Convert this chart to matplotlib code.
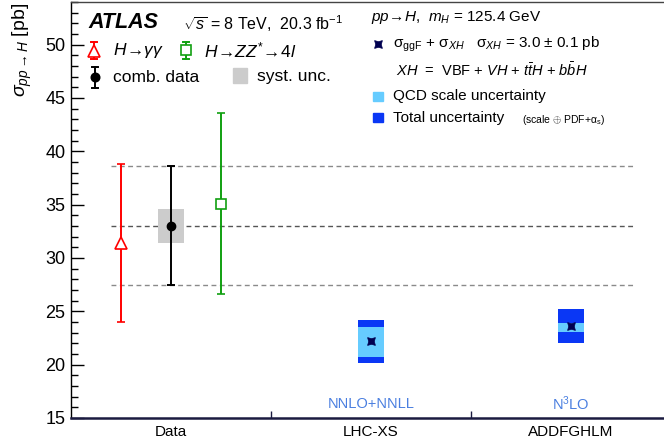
import matplotlib
matplotlib.use("Agg")
import matplotlib.pyplot as plt
from matplotlib.ticker import MultipleLocator, FixedLocator
from matplotlib.patches import Rectangle

plt.rcParams['font.family'] = ['Liberation Sans', 'DejaVu Sans']
plt.rcParams['mathtext.fontset'] = 'custom'
plt.rcParams['mathtext.rm'] = 'Liberation Sans'
plt.rcParams['mathtext.it'] = 'Liberation Sans:italic'
plt.rcParams['mathtext.bf'] = 'Liberation Sans:bold'

# ---------------- data ----------------
categories = ['Data', 'LHC-XS', 'ADDFGHLM']
cat_pos = [0.5, 1.5, 2.5]

# measurements (x position inside "Data" slot)
gg_x, gg_val, gg_lo, gg_hi = 0.25, 31.4, 7.4, 7.4
zz_x, zz_val, zz_lo, zz_hi = 0.75, 35.1, 8.5, 8.5
cb_x, cb_val, cb_lo, cb_hi = 0.5, 33.0, 5.55, 5.6
cb_syst = 1.6

# theory predictions
th_x = [1.5, 2.5]
th_labels = ['NNLO+NNLL', 'N$^{3}$LO']
th_central = [22.2, 23.6]
th_qcd_lo = [20.75, 23.1]
th_qcd_hi = [23.55, 23.9]
th_tot_lo = [20.2, 22.05]
th_tot_hi = [24.2, 25.2]

W, H = 664, 446
fig = plt.figure(figsize=(W / 100, H / 100), dpi=100)
ax = fig.add_axes([71 / W, 28 / H, 600 / W, 416 / H])
ax.set_xlim(0, 3)
ax.set_ylim(15, 54.0)

# dashed reference lines from combined data
for yv, col in [(cb_val + cb_hi, '#8a8a8a'), (cb_val, '#555555'), (cb_val - cb_lo, '#8a8a8a')]:
    ax.plot([0.2, 2.81], [yv, yv], color=col, lw=1.0, ls=(0, (3.5, 2.5)), zorder=1)

# systematic box
ax.bar([cb_x], [2 * cb_syst], bottom=[cb_val - cb_syst], width=0.133,
       color='#cccccc', zorder=2)

# measurements
ax.errorbar([gg_x], [gg_val], yerr=[[gg_lo], [gg_hi]], fmt='^', color='#ff0000',
            mfc='white', mec='#ff0000', ms=8, mew=1.2, lw=1.4, capsize=3, capthick=1.4, zorder=4)
ax.errorbar([zz_x], [zz_val], yerr=[[zz_lo], [zz_hi]], fmt='s', color='#10a010',
            mfc='white', mec='#10a010', ms=6.5, mew=1.2, lw=1.4, capsize=3, capthick=1.4, zorder=4)
ax.errorbar([cb_x], [cb_val], yerr=[[cb_lo], [cb_hi]], fmt='o', color='black',
            ms=6, lw=1.4, capsize=3, capthick=1.4, zorder=5)

# theory boxes
for i in range(len(th_x)):
    ax.bar([th_x[i]], [th_tot_hi[i] - th_tot_lo[i]], bottom=[th_tot_lo[i]], width=0.133,
           color='#0a37f5', zorder=2)
    ax.bar([th_x[i]], [th_qcd_hi[i] - th_qcd_lo[i]], bottom=[th_qcd_lo[i]], width=0.133,
           color='#66ccff', zorder=3)
    ax.text(th_x[i], 16.3, th_labels[i], color='#4a7fe0', fontsize=10.5,
            ha='center', va='center')
ax.plot(th_x, th_central, ls='none', marker=(4, 1, 45), ms=8, color='#000050',
        mec='#000050', mew=0.5, zorder=5)

# axes styling
ax.spines['right'].set_visible(False)
ax.spines['left'].set_linewidth(1.0)
ax.spines['top'].set_linewidth(1.0)
ax.spines['top'].set_color('#444444')
ax.spines['bottom'].set_color('#1a1a40')
ax.spines['bottom'].set_linewidth(1.8)
ax.yaxis.set_major_locator(MultipleLocator(5))
ax.yaxis.set_minor_locator(MultipleLocator(1))
ax.tick_params(axis='y', which='major', direction='in', length=9, width=1, labelsize=13, pad=4)
ax.tick_params(axis='y', which='minor', direction='in', length=5, width=1)
ax.set_xticks(cat_pos)
ax.set_xticklabels(categories, fontsize=11)
ax.xaxis.set_minor_locator(FixedLocator([1, 2]))
ax.tick_params(axis='x', which='major', length=0, pad=5)
ax.tick_params(axis='x', which='minor', direction='in', length=5, width=1, color='#1a1a40')

# y label
fig.text(22 / W, 1 - 3 / H, r'$\sigma_{pp\rightarrow H}$ [pb]', rotation=90,
         ha='center', va='top', fontsize=14)

# overlay for legends (pixel coordinates)
ov = fig.add_axes([0, 0, 1, 1], facecolor='none')
ov.set_xlim(0, W)
ov.set_ylim(H, 0)
ov.axis('off')


def icon(x, y0, y1, ym, color, marker, mfc, ms):
    ov.plot([x, x], [y0, y1], color=color, lw=1.4)
    ov.plot([x - 3, x + 3], [y0, y0], color=color, lw=1.4)
    ov.plot([x - 3, x + 3], [y1, y1], color=color, lw=1.4)
    ov.plot([x], [ym], marker=marker, color=color, mfc=mfc, mec=color, ms=ms, mew=1.2)


ov.text(88, 23, 'ATLAS', fontsize=15.5, fontweight='bold', fontstyle='italic',
        ha='left', va='center')
ov.text(183, 24, r'$\sqrt{s}$ = 8 TeV,  20.3 fb$^{-1}$', fontsize=11.5, ha='left', va='center')
icon(94, 42, 59, 51, '#ff0000', '^', 'white', 8)
ov.text(113, 50, r'$H\!\rightarrow\!\gamma\gamma$', fontsize=12.5, ha='left', va='center')
icon(186, 42, 59, 50, '#10a010', 's', 'white', 6.5)
ov.text(204, 50, r'$H\!\rightarrow\!ZZ^{*}\!\rightarrow\!4l$', fontsize=12.5, ha='left', va='center')
icon(95, 67, 88, 77, 'black', 'o', 'black', 6)
ov.text(113, 77, 'comb. data', fontsize=12.5, ha='left', va='center')
ov.add_patch(Rectangle((233, 68), 14, 15, color='#cccccc'))
ov.text(257, 76, 'syst. unc.', fontsize=12.5, ha='left', va='center')

ov.text(371, 18, r'$pp\!\rightarrow\!H$,  $m_{H}$ = 125.4 GeV', fontsize=11, ha='left', va='center')
ov.plot([378], [44], marker=(4, 1, 45), ms=8, color='#000050', mew=0.5, ls='none')
ov.text(393, 44, r'σ$_{\mathrm{ggF}}$ + σ$_{XH}$   σ$_{XH}$ = 3.0 ± 0.1 pb', fontsize=11,
        ha='left', va='center')
ov.text(396, 70, r'$XH$  =  VBF + $VH$ + $t\bar{t}H$ + $b\bar{b}H$', fontsize=10.5,
        ha='left', va='center')
ov.add_patch(Rectangle((373, 92), 10, 9, color='#66ccff'))
ov.text(393, 96, 'QCD scale uncertainty', fontsize=11, ha='left', va='center')
ov.add_patch(Rectangle((373, 113), 10, 9, color='#0a37f5'))
ov.text(393, 118, 'Total uncertainty', fontsize=11, ha='left', va='center')
ov.text(522, 120, r'(scale $\oplus$ PDF+$\mathrm{\alpha}_{\mathrm{s}}$)', fontsize=7.5,
        ha='left', va='center')

fig.savefig('out.png', dpi=100)
